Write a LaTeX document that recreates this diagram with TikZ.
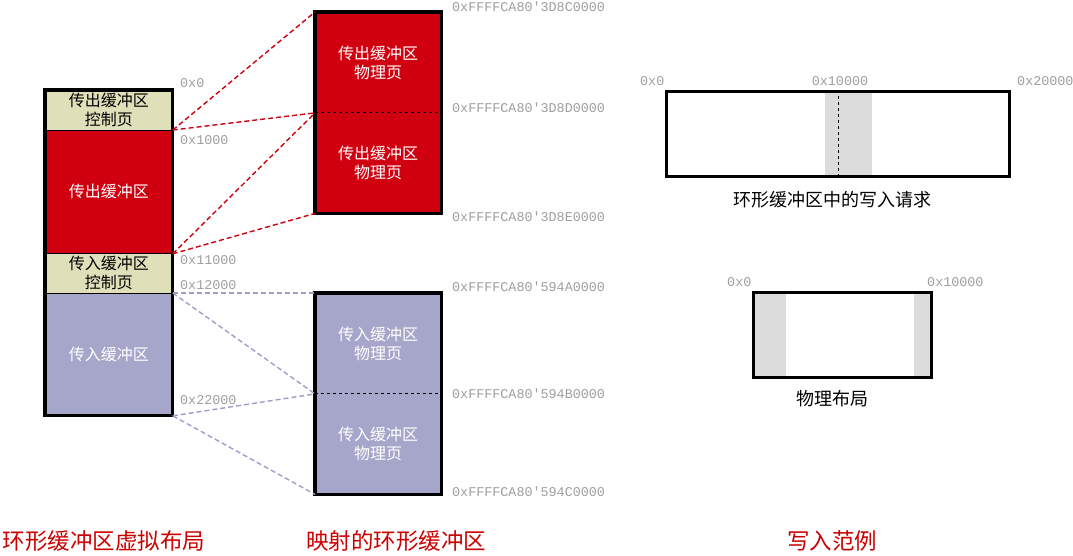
\documentclass[tikz,border=0pt]{standalone}
\usepackage{fontspec}
\newfontfamily\cjk{Noto Sans CJK SC}
\newfontfamily\monof{Liberation Mono}
\definecolor{bufred}{RGB}{208,0,16}
\definecolor{ctltan}{RGB}{223,223,186}
\definecolor{inblue}{RGB}{166,166,202}
\definecolor{titred}{RGB}{204,0,0}
\definecolor{lnblue}{RGB}{160,156,203}
\definecolor{band}{RGB}{220,220,220}
\tikzset{
  sect/.style={draw=black, line width=0.8pt, minimum width=127pt, anchor=north west, inner sep=0pt, align=center, font=\cjk\fontsize{16}{19}\selectfont},
  page/.style={minimum width=126pt, minimum height=100.5pt, anchor=north west, inner sep=0pt, align=center, text=white, font=\cjk\fontsize{16}{19}\selectfont},
  addr/.style={anchor=west, inner sep=0pt, text=gray!75, font=\monof\fontsize{13.4}{14}\selectfont},
  reddash/.style={draw=bufred, line width=1.4pt, dash pattern=on 5pt off 3pt},
  bluedash/.style={draw=lnblue, line width=1.4pt, dash pattern=on 5pt off 3pt},
  frame/.style={draw=black, line width=3.2pt},
  title/.style={text=titred, inner sep=0pt, font=\cjk\fontsize{22.5}{24}\selectfont},
  caption/.style={inner sep=0pt, font=\cjk\fontsize{18}{20}\selectfont}
}
\begin{document}
\begin{tikzpicture}[x=1pt,y=-1pt]
\useasboundingbox[fill=white] (0,0) rectangle (1073,555);
% left column
\node[sect, fill=ctltan, minimum height=40pt] (ctl1) at (45,90) {传出缓冲区\\控制页};
\node[sect, fill=bufred, minimum height=123pt, text=white] (obuf) at (45,130) {传出缓冲区};
\node[sect, fill=ctltan, minimum height=40pt] (ctl2) at (45,253) {传入缓冲区\\控制页};
\node[sect, fill=inblue, minimum height=122pt, text=white] (ibuf) at (45,293) {传入缓冲区};
\draw[frame] (ctl1.north west) rectangle (ibuf.south east);
% left labels
\node[addr] (a0) at (180,83) {0x0};
\node[addr] (a1) at (180,140) {0x1000};
\node[addr] (a2) at (180,260) {0x11000};
\node[addr] (a3) at (180,285) {0x12000};
\node[addr] (a4) at (180,400) {0x22000};
% middle outgoing pages
\node[page, fill=bufred] (p1) at (315,12) {传出缓冲区\\物理页};
\node[page, fill=bufred] (p2) at (315,112.5) {传出缓冲区\\物理页};
\draw[black, line width=1pt, dashed] (p1.south west) -- (p1.south east);
\draw[frame] (p1.north west) rectangle (p2.south east);
% middle incoming pages
\node[page, fill=inblue] (q1) at (315,293) {传入缓冲区\\物理页};
\node[page, fill=inblue] (q2) at (315,393.5) {传入缓冲区\\物理页};
\draw[black, line width=1pt, dashed] (q1.south west) -- (q1.south east);
\draw[frame] (q1.north west) rectangle (q2.south east);
% connectors
\draw[reddash] (obuf.north east) -- (p1.north west);
\draw[reddash] (obuf.north east) -- (p1.south west);
\draw[reddash] (obuf.south east) -- (p1.south west);
\draw[reddash] (obuf.south east) -- (p2.south west);
\draw[bluedash] (ibuf.north east) -- (q1.north west);
\draw[bluedash] (ibuf.north east) -- (q1.south west);
\draw[bluedash] (ibuf.south east) -- (q1.south west);
\draw[bluedash] (ibuf.south east) -- (q2.south west);
% right addresses
\node[addr] (h1) at (452,7) {0xFFFFCA80'3D8C0000};
\node[addr] (h2) at (452,108) {0xFFFFCA80'3D8D0000};
\node[addr] (h3) at (452,217) {0xFFFFCA80'3D8E0000};
\node[addr] (h4) at (452,287) {0xFFFFCA80'594A0000};
\node[addr] (h5) at (452,394) {0xFFFFCA80'594B0000};
\node[addr] (h6) at (452,492) {0xFFFFCA80'594C0000};
% write example: ring buffer
\fill[band] (825,90) rectangle (872,175);
\draw[black, line width=1pt, dashed] (838,90) -- (838,175);
\node[frame, minimum width=343pt, minimum height=85pt, anchor=north west, inner sep=0pt] (ring) at (665,90) {};
\node[addr] (r0) at (640,81) {0x0};
\node[addr, anchor=center] (r1) at (840,81) {0x10000};
\node[addr] (r2) at (1017,81) {0x20000};
\node[caption] (rc) at (832,200) {环形缓冲区中的写入请求};
% write example: physical layout
\fill[band] (752,291) rectangle (786,376);
\fill[band] (914,291) rectangle (930,376);
\node[frame, minimum width=178pt, minimum height=85pt, anchor=north west, inner sep=0pt] (phys) at (752,291) {};
\node[addr] (s0) at (727,282) {0x0};
\node[addr] (s1) at (927,282) {0x10000};
\node[caption] (pc) at (832,399) {物理布局};
% titles
\node[title] (t1) at (104,541) {环形缓冲区虚拟布局};
\node[title] (t2) at (396,541) {映射的环形缓冲区};
\node[title] (t3) at (832,541) {写入范例};
\end{tikzpicture}
\end{document}
